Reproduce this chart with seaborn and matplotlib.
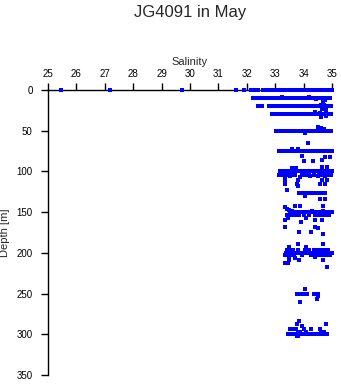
import matplotlib
matplotlib.use("Agg")
import matplotlib.pyplot as plt
import seaborn as sns
import pandas as pd

# ---------------- data (salinity values by depth level) ----------------
sal_d0 = [25.45, 27.18, 29.73, 31.62, 31.90, 32.15, 32.22, 32.30, 32.40,
          32.56, 32.63, 32.71, 32.80, 32.87, 32.95, 33.04, 33.11, 33.19, 33.28,
          33.35, 33.43, 33.52, 33.59, 33.67, 33.76, 33.83, 33.91, 34.00, 34.07,
          34.15, 34.24, 34.31, 34.39, 34.48, 34.55, 34.63, 34.72, 34.79, 34.87,
          34.94, 34.99]
sal_d10 = [32.22, 32.29, 32.36, 32.50, 32.58, 32.66, 32.76, 32.84, 32.92,
           33.00, 33.08, 33.14, 33.21, 33.28, 33.35, 33.42, 33.49, 33.56, 33.63,
           33.70, 33.77, 33.84, 33.91, 33.98, 34.05, 34.12, 34.19, 34.26, 34.33,
           34.40, 34.47, 34.54, 34.61, 34.68, 34.75, 34.82, 34.89, 34.93]
sal_d20 = [32.39, 32.46, 32.53, 32.78, 32.87, 32.94, 33.01, 33.08, 33.15,
           33.22, 33.29, 33.36, 33.43, 33.50, 33.57, 33.64, 33.71, 33.78, 33.85,
           33.92, 33.99, 34.06, 34.13, 34.20, 34.27, 34.34, 34.41, 34.48, 34.55,
           34.62, 34.69, 34.76, 34.83, 34.90, 34.96]
sal_d30 = [32.89, 32.96, 33.03, 33.10, 33.17, 33.24, 33.31, 33.38, 33.45,
           33.52, 33.59, 33.66, 33.73, 33.80, 33.87, 33.94, 34.01, 34.08, 34.15,
           34.22, 34.29, 34.36, 34.43, 34.50, 34.57, 34.64, 34.71, 34.78, 34.85,
           34.92, 34.96]
sal_d50 = [33.03, 33.10, 33.17, 33.24, 33.36, 33.43, 33.50, 33.57, 33.64,
           33.71, 33.78, 33.85, 33.92, 33.99, 34.06, 34.13, 34.20, 34.27, 34.34,
           34.41, 34.48, 34.55, 34.62, 34.69, 34.76, 34.83, 34.90, 34.96]
sal_d75 = [33.13, 33.20, 33.27, 33.34, 33.41, 33.48, 33.55, 33.62, 33.69,
           33.76, 33.83, 33.90, 33.97, 34.04, 34.11, 34.18, 34.25, 34.32, 34.39,
           34.46, 34.53, 34.60, 34.67, 34.74, 34.81, 34.88, 34.95, 34.99]
sal_d100 = [33.17, 33.24, 33.31, 33.38, 33.45, 33.52, 33.59, 33.66, 33.73,
            33.80, 33.87, 33.94, 34.01, 34.08, 34.15, 34.22, 34.29, 34.36,
            34.43, 34.50, 34.57, 34.64, 34.71, 34.78, 34.85, 34.92, 34.99]
sal_d104 = [33.12, 33.20, 33.30, 33.42, 33.55, 33.61, 33.70, 33.95, 34.10,
            34.18, 34.35, 34.55, 34.62, 34.70, 34.80, 34.88, 34.96]
sal_d126 = [33.84, 33.90, 33.96, 34.02, 34.08, 34.14, 34.20, 34.26, 34.32,
            34.44, 34.50, 34.56, 34.62, 34.68, 34.75]
sal_d150 = [33.52, 33.59, 33.66, 33.73, 33.80, 33.87, 33.94, 34.01, 34.08,
            34.15, 34.22, 34.29, 34.36, 34.43, 34.50, 34.57, 34.64, 34.71,
            34.78, 34.85, 34.92, 34.99]
sal_d153 = [33.40, 33.48, 33.56, 33.70, 33.85, 34.00, 34.20, 34.40, 34.55,
            34.68, 34.80, 34.90]
sal_d200 = [33.38, 33.45, 33.52, 33.59, 33.66, 33.73, 33.80, 33.87, 33.94,
            34.01, 34.08, 34.15, 34.22, 34.29, 34.36, 34.43, 34.50, 34.57,
            34.64, 34.71, 34.78, 34.85, 34.92, 34.99]
sal_d197 = [33.40, 33.50, 33.62, 33.80, 34.05, 34.20, 34.35, 34.48, 34.60,
            34.72, 34.85]
sal_d203 = [33.35, 33.45, 33.55, 33.65, 33.95, 34.25, 34.40, 34.55, 34.70,
            34.82, 34.92]
sal_d250 = [33.77, 33.84, 33.91, 33.98, 34.05, 34.13, 34.37, 34.44, 34.52]
sal_d300 = [33.46, 33.53, 33.60, 33.67, 33.74, 33.81, 33.88, 33.95, 34.02,
            34.09, 34.16, 34.23, 34.30, 34.37, 34.44, 34.51, 34.58, 34.65,
            34.72, 34.79, 34.83]

# individual scattered samples (depth, salinity)
scat_depth = [12, 9, 9, 11, 13, 18, 19, 23, 24, 26.5, 28, 33, 32, 45, 47, 48,
              53, 65.5, 72, 72, 81, 82, 82, 87, 87, 86, 96, 96, 95, 95,
              106, 106, 107, 106, 106, 106, 110, 110, 110, 110, 115, 115, 115,
              115, 118, 123, 130, 134, 134, 142, 142, 142, 146, 147, 144, 148,
              148, 148, 157, 157, 160, 160, 160, 162, 168, 168, 170, 174, 174,
              177, 189, 189, 193, 193, 205, 206, 205, 209, 209, 209, 212, 213,
              217, 244.5, 253, 260, 257, 284, 287, 287, 290, 293, 293, 293,
              294, 293, 293, 297, 297, 297, 297, 297, 302, 302]
scat_sal = [34.75, 33.25, 34.20, 34.45, 34.70, 34.60, 34.72, 34.65, 34.80,
            34.40, 34.58, 34.62, 34.78, 34.50, 34.60, 34.72, 34.05, 34.15,
            33.60, 33.80, 33.93, 34.75, 34.93, 34.00, 34.33, 34.64, 33.60,
            33.73, 34.64, 34.82, 33.35, 33.52, 33.87, 34.23, 34.52, 34.75,
            33.35, 33.82, 34.64, 34.82, 33.35, 33.78, 34.58, 34.75, 33.82,
            33.40, 34.05, 34.58, 34.75, 33.70, 33.87, 34.68, 33.40, 33.50,
            33.35, 33.60, 34.30, 34.70, 33.45, 34.10, 33.35, 34.40, 34.65,
            33.90, 33.35, 34.40, 34.50, 33.85, 34.25, 34.70, 33.80, 34.70,
            33.50, 34.10, 33.50, 33.70, 34.40, 33.50, 33.85, 34.70, 33.35,
            33.45, 34.82, 34.05, 34.52, 33.87, 34.48, 33.84, 33.77, 34.78,
            33.95, 33.52, 33.60, 33.73, 34.00, 34.25, 34.58, 33.81, 33.88,
            34.10, 34.60, 34.72, 33.75, 33.80]

levels = {0: sal_d0, 10: sal_d10, 20: sal_d20, 30: sal_d30, 50: sal_d50,
          75: sal_d75, 100: sal_d100, 104: sal_d104, 126: sal_d126,
          150: sal_d150, 153: sal_d153, 197: sal_d197, 200: sal_d200,
          203: sal_d203, 250: sal_d250, 300: sal_d300}

rows_d, rows_s = [], []
for d, vals in levels.items():
    rows_d += [d] * len(vals)
    rows_s += vals
rows_d += scat_depth
rows_s += scat_sal
df = pd.DataFrame({"Salinity": rows_s, "Depth": rows_d})

# ---------------- plot ----------------
sns.set_style("white")
plt.rcParams["font.family"] = ["Liberation Sans", "DejaVu Sans"]

fig = plt.figure(figsize=(3.41, 3.84), dpi=100)
ax = fig.add_axes([48 / 341, 1 - 375 / 384, 284 / 341, 285 / 384])

sns.scatterplot(data=df, x="Salinity", y="Depth", ax=ax, marker="s", s=5,
                color="#0000ff", linewidth=0, zorder=5, clip_on=False)

ax.set_xlim(25, 35)
ax.set_ylim(350, 0)
ax.set_xticks(range(25, 36))
ax.set_yticks(range(0, 351, 50))
ax.xaxis.tick_top()
ax.xaxis.set_label_position("top")
for side in ("right", "bottom"):
    ax.spines[side].set_visible(False)
for side in ("left", "top"):
    ax.spines[side].set_color("black")
    ax.spines[side].set_linewidth(1)
ax.tick_params(axis="x", direction="out", length=5, width=1, labelsize=7,
               pad=3, colors="black", top=True, bottom=False)
ax.tick_params(axis="y", direction="out", length=5, width=1, labelsize=7,
               pad=6, colors="black", left=True)
ax.set_xlabel("Salinity", fontsize=8, labelpad=3)
ax.set_ylabel("Depth [m]", fontsize=8)
ax.yaxis.set_label_coords(-0.135, 0.5)
ax.grid(False)

fig.text(190 / 341, 1 - 12 / 384, "JG4091 in May", ha="center", va="center",
         fontsize=12)

fig.savefig("out.png", dpi=100)
